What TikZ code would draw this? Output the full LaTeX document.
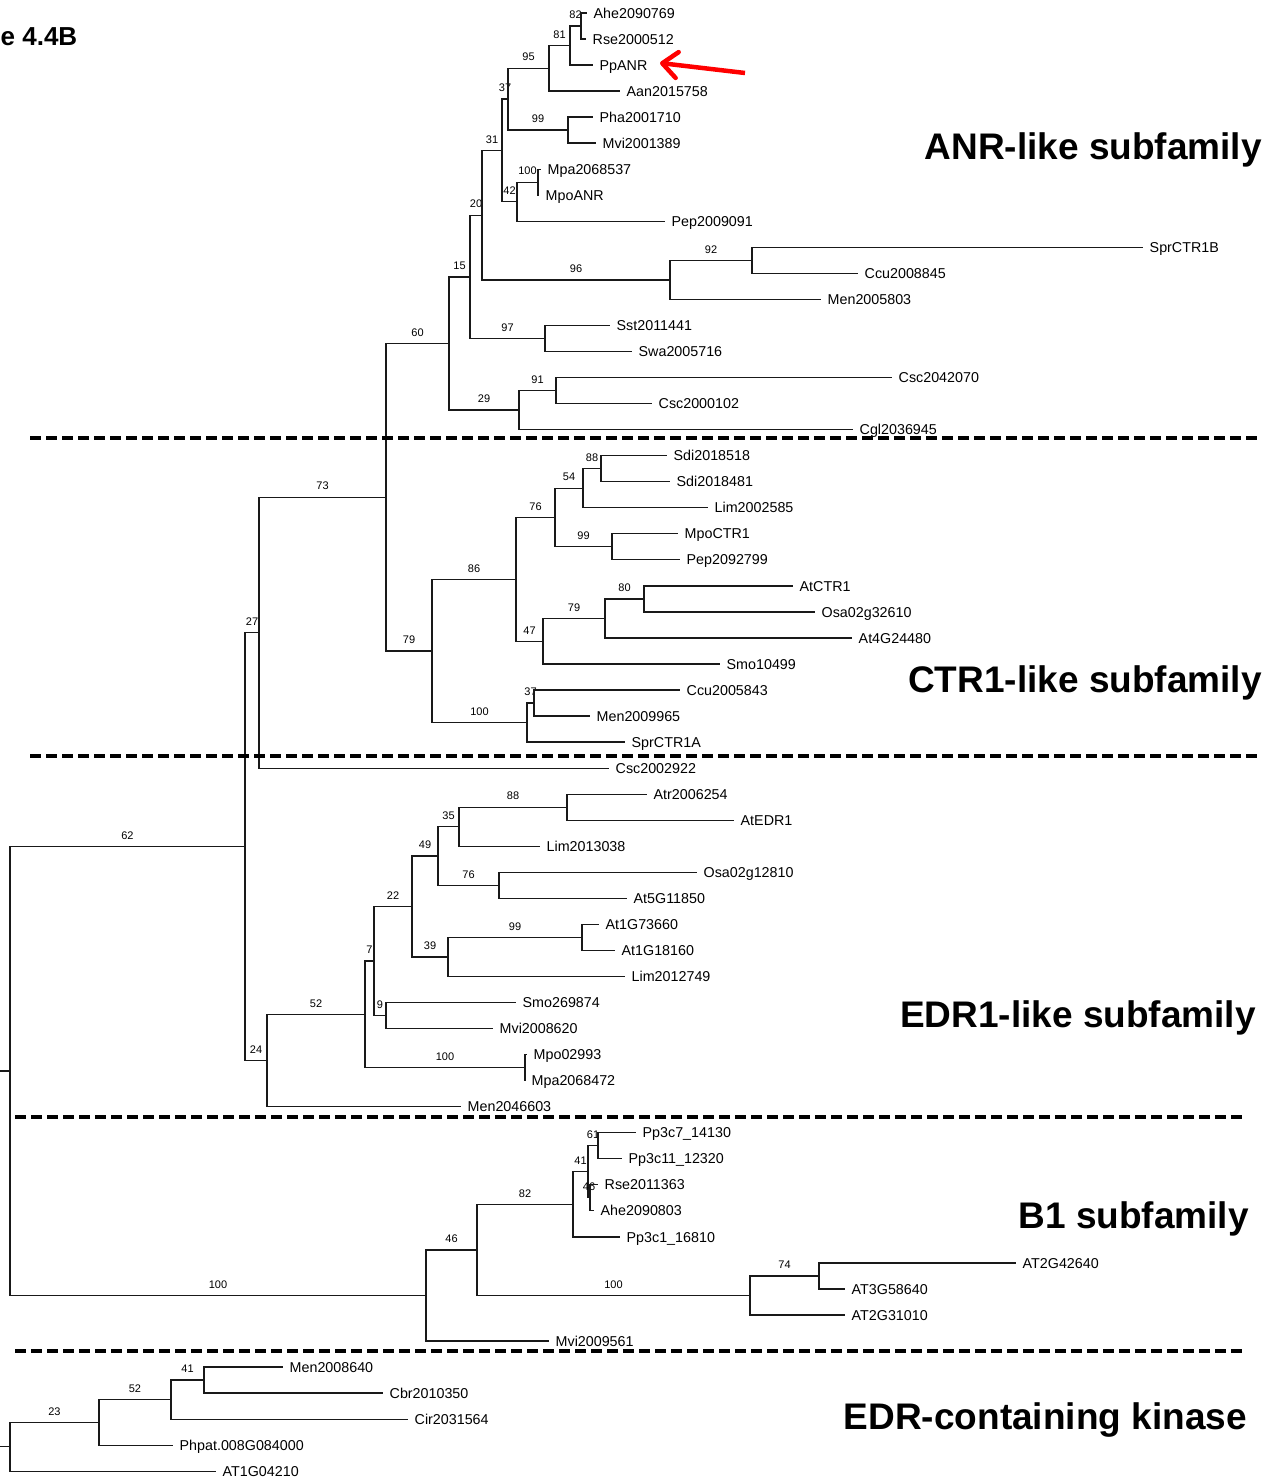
\documentclass[tikz,border=0pt]{standalone}
\usepackage{fontspec}
\setmainfont{Liberation Sans}
\usetikzlibrary{arrows.meta}
\begin{document}
\begin{tikzpicture}[x=1pt,y=-1pt,
  branch/.style={line width=1.3pt, draw=black!90},
  leaf/.style={anchor=west, inner xsep=6.5pt, inner ysep=0pt,
    font=\fontsize{14.3}{16}\selectfont, text height=10.3pt, text depth=0pt},
  bs/.style={pos=0.75, above=6.5pt, inner sep=0pt, font=\fontsize{11}{12}\selectfont},
  sep/.style={line width=3.6pt, dash pattern=on 11pt off 5pt},
  clade/.style={font=\fontsize{37}{40}\selectfont\bfseries, anchor=base east, inner sep=0pt},
  pointer/.style={draw=red, line width=4.5pt,
    -{Straight Barb[length=15pt,width=26pt,line cap=round,line join=round]}}]

\fill[white] (0,0) rectangle (1280,1477);
\useasboundingbox (0,0) rectangle (1280,1477);

% ---------- leaves (tip of branch = west anchor) ----------
\node[leaf] (Ahe2090769) at (587,13) {Ahe2090769};
\node[leaf] (Rse2000512) at (586,39) {Rse2000512};
\node[leaf] (PpANR) at (593,65) {PpANR};
\node[leaf] (Aan2015758) at (620,91) {Aan2015758};
\node[leaf] (Pha2001710) at (593,117) {Pha2001710};
\node[leaf] (Mvi2001389) at (596,143) {Mvi2001389};
\node[leaf] (Mpa2068537) at (541,169.2) {Mpa2068537};
\node[leaf] (MpoANR) at (539,195.3) {MpoANR};
\node[leaf] (Pep2009091) at (665,221.3) {Pep2009091};
\node[leaf] (SprCTR1B) at (1143,247.4) {SprCTR1B};
\node[leaf] (Ccu2008845) at (858,273.4) {Ccu2008845};
\node[leaf] (Men2005803) at (821,299.4) {Men2005803};
\node[leaf] (Sst2011441) at (610,325.5) {Sst2011441};
\node[leaf] (Swa2005716) at (632,351.5) {Swa2005716};
\node[leaf] (Csc2042070) at (892,377.6) {Csc2042070};
\node[leaf] (Csc2000102) at (652,403.6) {Csc2000102};
\node[leaf] (Cgl2036945) at (853,429.6) {Cgl2036945};
\node[leaf] (Sdi2018518) at (667,455.7) {Sdi2018518};
\node[leaf] (Sdi2018481) at (670,481.7) {Sdi2018481};
\node[leaf] (Lim2002585) at (708,507.8) {Lim2002585};
\node[leaf] (MpoCTR1) at (678,533.8) {MpoCTR1};
\node[leaf] (Pep2092799) at (680,559.8) {Pep2092799};
\node[leaf] (AtCTR1) at (793,585.9) {AtCTR1};
\node[leaf] (Osa02g32610) at (815,611.9) {Osa02g32610};
\node[leaf] (At4G24480) at (852,638) {At4G24480};
\node[leaf] (Smo10499) at (720,664) {Smo10499};
\node[leaf] (Ccu2005843) at (680,690) {Ccu2005843};
\node[leaf] (Men2009965) at (590,716.1) {Men2009965};
\node[leaf] (SprCTR1A) at (625,742.1) {SprCTR1A};
\node[leaf] (Csc2002922) at (609,768.2) {Csc2002922};
\node[leaf] (Atr2006254) at (647,794.2) {Atr2006254};
\node[leaf] (AtEDR1) at (734,820.2) {AtEDR1};
\node[leaf] (Lim2013038) at (540,846.3) {Lim2013038};
\node[leaf] (Osa02g12810) at (697,872.3) {Osa02g12810};
\node[leaf] (At5G11850) at (627,898.4) {At5G11850};
\node[leaf] (At1G73660) at (599,924.4) {At1G73660};
\node[leaf] (At1G18160) at (615,950.4) {At1G18160};
\node[leaf] (Lim2012749) at (625,976.5) {Lim2012749};
\node[leaf] (Smo269874) at (516,1002.5) {Smo269874};
\node[leaf] (Mvi2008620) at (493,1028.6) {Mvi2008620};
\node[leaf] (Mpo02993) at (527,1054.6) {Mpo02993};
\node[leaf] (Mpa2068472) at (525,1080.6) {Mpa2068472};
\node[leaf] (Men2046603) at (461,1106.7) {Men2046603};
\node[leaf] (Pp3c7x14130) at (636,1132.7) {Pp3c7\_14130};
\node[leaf] (Pp3c11x12320) at (622,1158.8) {Pp3c11\_12320};
\node[leaf] (Rse2011363) at (598,1184.8) {Rse2011363};
\node[leaf] (Ahe2090803) at (594,1210.8) {Ahe2090803};
\node[leaf] (Pp3c1x16810) at (620,1236.9) {Pp3c1\_16810};
\node[leaf] (AT2G42640) at (1016,1262.9) {AT2G42640};
\node[leaf] (AT3G58640) at (845,1289) {AT3G58640};
\node[leaf] (AT2G31010) at (845,1315) {AT2G31010};
\node[leaf] (Mvi2009561) at (549,1341) {Mvi2009561};
\node[leaf] (Men2008640) at (283,1367.1) {Men2008640};
\node[leaf] (Cbr2010350) at (383,1393.1) {Cbr2010350};
\node[leaf] (Cir2031564) at (408,1419.2) {Cir2031564};
\node[leaf] (Phpat008G084000) at (173,1445.2) {Phpat.008G084000};
\node[leaf] (AT1G04210) at (216,1471.2) {AT1G04210};

% ---------- internal nodes ----------
\coordinate (n82) at (581,26);
\coordinate (n81) at (570,45.5);
\coordinate (n95) at (549,68.25);
\coordinate (n99a) at (568,130);
\coordinate (n37a) at (508,99.1);
\coordinate (n100a) at (538,182.25);
\coordinate (n42) at (517,201.8);
\coordinate (n31) at (502,150.45);
\coordinate (n92) at (752,260.4);
\coordinate (n96) at (670,279.9);
\coordinate (n20) at (482,215.2);
\coordinate (n97) at (545,338.5);
\coordinate (n15) at (470,276.85);
\coordinate (n91) at (556,390.6);
\coordinate (n29) at (519,410.1);
\coordinate (n60) at (449,343.5);

\coordinate (n88b) at (601,468.7);
\coordinate (n54) at (583,488.25);
\coordinate (n99b) at (612,546.8);
\coordinate (n76b) at (555,517.5);
\coordinate (n80) at (644,598.9);
\coordinate (n79b) at (605,618.45);
\coordinate (n47) at (543,641.2);
\coordinate (n86) at (516,579.35);
\coordinate (n37b) at (534,703.05);
\coordinate (n100b) at (527,722.6);
\coordinate (n79a) at (432,651);
\coordinate (n73) at (386,497.25);
\coordinate (n27) at (259,632.7);

\coordinate (n88c) at (567,807.2);
\coordinate (n35) at (459,826.75);
\coordinate (n76c) at (499,885.35);
\coordinate (n49) at (438,856.05);
\coordinate (n99c) at (582,937.4);
\coordinate (n39) at (448,956.95);
\coordinate (n22) at (412,906.5);
\coordinate (n9) at (386,1015.55);
\coordinate (n7) at (374,961);
\coordinate (n100c) at (525,1067.6);
\coordinate (n52) at (365,1014.3);
\coordinate (n24) at (267,1060.5);
\coordinate (n62) at (245,846.6);

\coordinate (n61) at (598,1145.75);
\coordinate (n46b) at (590,1197.8);
\coordinate (n41) at (588,1171.8);
\coordinate (n82b) at (573,1204.35);
\coordinate (n74) at (819,1275.95);
\coordinate (n100d) at (750,1295.5);
\coordinate (n46) at (477,1249.9);
\coordinate (nB1) at (426,1295.45);
\coordinate (root) at (10,1071);
\coordinate (rootstub) at (0,1071);

\coordinate (n41e) at (204,1380.1);
\coordinate (n52e) at (171,1399.65);
\coordinate (n23) at (99,1422.4);
\coordinate (rootE) at (10,1446.8);
\coordinate (rootEstub) at (0,1446.8);

% ---------- branches ----------
\begin{scope}[branch]
% root
\draw (rootstub) -- (root);
\draw (root) |- node[bs]{62} (n62);
\draw (root) |- node[bs]{100} (nB1);
\draw (n62) |- node[bs]{27} (n27);
\draw (n62) |- node[bs]{24} (n24);
\draw (n27) |- node[bs]{73} (n73);
\draw (n27) |- (Csc2002922.west);
% ANR-like
\draw (n73) |- node[bs]{60} (n60);
\draw (n60) |- node[bs]{15} (n15);
\draw (n60) |- node[bs]{29} (n29);
\draw (n15) |- node[bs]{20} (n20);
\draw (n15) |- node[bs]{97} (n97);
\draw (n20) |- node[bs]{31} (n31);
\draw (n20) |- node[bs]{96} (n96);
\draw (n31) |- node[bs]{37} (n37a);
\draw (n31) |- node[bs]{42} (n42);
\draw (n37a) |- node[bs]{95} (n95);
\draw (n37a) |- node[bs]{99} (n99a);
\draw (n95) |- node[bs]{81} (n81);
\draw (n95) |- (Aan2015758.west);
\draw (n81) |- node[bs]{82} (n82);
\draw (n81) |- (PpANR.west);
\draw (n82) |- (Ahe2090769.west);
\draw (n82) |- (Rse2000512.west);
\draw (n99a) |- (Pha2001710.west);
\draw (n99a) |- (Mvi2001389.west);
\draw (n42) |- node[bs]{100} (n100a);
\draw (n42) |- (Pep2009091.west);
\draw (n100a) |- (Mpa2068537.west);
\draw (n100a) |- (MpoANR.west);
\draw (n96) |- node[bs]{92} (n92);
\draw (n96) |- (Men2005803.west);
\draw (n92) |- (SprCTR1B.west);
\draw (n92) |- (Ccu2008845.west);
\draw (n97) |- (Sst2011441.west);
\draw (n97) |- (Swa2005716.west);
\draw (n29) |- node[bs]{91} (n91);
\draw (n29) |- (Cgl2036945.west);
\draw (n91) |- (Csc2042070.west);
\draw (n91) |- (Csc2000102.west);
% CTR1-like
\draw (n73) |- node[bs]{79} (n79a);
\draw (n79a) |- node[bs]{86} (n86);
\draw (n79a) |- node[bs]{100} (n100b);
\draw (n86) |- node[bs]{76} (n76b);
\draw (n86) |- node[bs]{47} (n47);
\draw (n76b) |- node[bs]{54} (n54);
\draw (n76b) |- node[bs]{99} (n99b);
\draw (n54) |- node[bs]{88} (n88b);
\draw (n54) |- (Lim2002585.west);
\draw (n88b) |- (Sdi2018518.west);
\draw (n88b) |- (Sdi2018481.west);
\draw (n99b) |- (MpoCTR1.west);
\draw (n99b) |- (Pep2092799.west);
\draw (n47) |- node[bs]{79} (n79b);
\draw (n47) |- (Smo10499.west);
\draw (n79b) |- node[bs]{80} (n80);
\draw (n79b) |- (At4G24480.west);
\draw (n80) |- (AtCTR1.west);
\draw (n80) |- (Osa02g32610.west);
\draw (n100b) |- node[bs]{37} (n37b);
\draw (n100b) |- (SprCTR1A.west);
\draw (n37b) |- (Ccu2005843.west);
\draw (n37b) |- (Men2009965.west);
% EDR1-like
\draw (n24) |- node[bs]{52} (n52);
\draw (n24) |- (Men2046603.west);
\draw (n52) |- node[bs]{7} (n7);
\draw (n52) |- node[bs]{100} (n100c);
\draw (n7) |- node[bs]{22} (n22);
\draw (n7) |- node[bs]{9} (n9);
\draw (n9) |- (Smo269874.west);
\draw (n9) |- (Mvi2008620.west);
\draw (n22) |- node[bs]{49} (n49);
\draw (n22) |- node[bs]{39} (n39);
\draw (n49) |- node[bs]{35} (n35);
\draw (n49) |- node[bs]{76} (n76c);
\draw (n35) |- node[bs]{88} (n88c);
\draw (n35) |- (Lim2013038.west);
\draw (n88c) |- (Atr2006254.west);
\draw (n88c) |- (AtEDR1.west);
\draw (n76c) |- (Osa02g12810.west);
\draw (n76c) |- (At5G11850.west);
\draw (n39) |- node[bs]{99} (n99c);
\draw (n39) |- (Lim2012749.west);
\draw (n99c) |- (At1G73660.west);
\draw (n99c) |- (At1G18160.west);
\draw (n100c) |- (Mpo02993.west);
\draw (n100c) |- (Mpa2068472.west);
% B1
\draw (nB1) |- node[bs]{46} (n46);
\draw (nB1) |- (Mvi2009561.west);
\draw (n46) |- node[bs]{82} (n82b);
\draw (n46) |- node[bs]{100} (n100d);
\draw (n82b) |- node[bs]{41} (n41);
\draw (n82b) |- (Pp3c1x16810.west);
\draw (n41) |- node[bs]{61} (n61);
\draw (n41) |- node[bs]{46} (n46b);
\draw (n61) |- (Pp3c7x14130.west);
\draw (n61) |- (Pp3c11x12320.west);
\draw (n46b) |- (Rse2011363.west);
\draw (n46b) |- (Ahe2090803.west);
\draw (n100d) |- node[bs]{74} (n74);
\draw (n100d) |- (AT2G31010.west);
\draw (n74) |- (AT2G42640.west);
\draw (n74) |- (AT3G58640.west);
% EDR-containing kinase
\draw (rootEstub) -- (rootE);
\draw (rootE) |- node[bs]{23} (n23);
\draw (rootE) |- (AT1G04210.west);
\draw (n23) |- node[bs]{52} (n52e);
\draw (n23) |- (Phpat008G084000.west);
\draw (n52e) |- node[bs]{41} (n41e);
\draw (n52e) |- (Cir2031564.west);
\draw (n41e) |- (Men2008640.west);
\draw (n41e) |- (Cbr2010350.west);
\end{scope}

% ---------- subfamily separators ----------
\draw[sep] (30,438) -- (1258,438);
\draw[sep] (30,756) -- (1258,756);
\draw[sep] (15,1117) -- (1243,1117);
\draw[sep] (15,1351) -- (1243,1351);

% ---------- subfamily names ----------
\node[clade] (anr) at (1262,160) {ANR-like subfamily};
\node[clade] (ctr) at (1262,692) {CTR1-like subfamily};
\node[clade] (edr) at (1256,1027) {EDR1-like subfamily};
\node[clade] (bone) at (1249,1228) {B1 subfamily};
\node[clade] (edrk) at (1247,1429) {EDR-containing kinase};

% ---------- panel title and pointer ----------
\node[anchor=base west, inner sep=0pt, font=\fontsize{26}{28}\selectfont\bfseries] (title) at (0.5,46) {e 4.4B};
\coordinate (ptail) at (745,73);
\coordinate (phead) at (660,63);
\draw[pointer] (ptail) -- (phead);

\end{tikzpicture}
\end{document}
